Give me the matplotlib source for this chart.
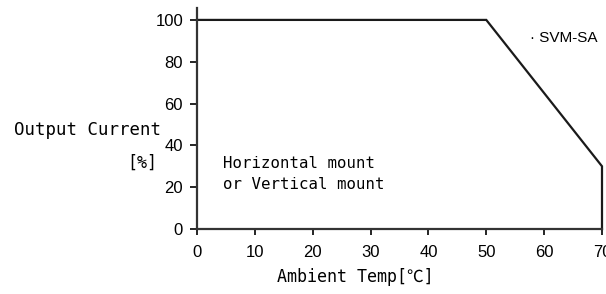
import matplotlib.pyplot as plt

# derating curve
temp = [0, 50, 70, 70]
current = [100, 100, 30, 0]
x_ticks = [0, 10, 20, 30, 40, 50, 60, 70]
y_ticks = [0, 20, 40, 60, 80, 100]

mono = ['DejaVu Sans Mono', 'Noto Sans CJK JP']
sans = ['Liberation Sans', 'DejaVu Sans']

fig = plt.figure(figsize=(6.06, 2.94), dpi=100)
ax = fig.add_axes([197 / 606, 1 - 229 / 294, 405 / 606, 221 / 294])

ax.plot(temp, current, color='#1a1a1a', lw=1.6, clip_on=False, solid_joinstyle='miter')
ax.set_xlim(0, 70)
ax.set_ylim(0, 105.7)

for s in ['top', 'right']:
    ax.spines[s].set_visible(False)
for s in ['left', 'bottom']:
    ax.spines[s].set_linewidth(1.6)
    ax.spines[s].set_color('#333333')

ax.set_xticks(x_ticks)
ax.set_yticks(y_ticks)
ax.tick_params(axis='x', direction='out', length=4.5, width=1.2, pad=7, labelsize=12)
ax.tick_params(axis='y', direction='out', length=5, width=1.2, pad=5, labelsize=12)
for lab in ax.get_xticklabels() + ax.get_yticklabels():
    lab.set_family(sans)

# labels
fig.text(14 / 606, 1 - 130 / 294, 'Output Current', family=mono, fontsize=12.5,
         ha='left', va='center')
fig.text(142 / 606, 1 - 163 / 294, '[%]', family=mono, fontsize=12,
         ha='center', va='center')
fig.text(355 / 606, 1 - 277 / 294, 'Ambient Temp[℃]', family=mono, fontsize=12,
         ha='center', va='center')
fig.text(223 / 606, 1 - 174 / 294, 'Horizontal mount\nor Vertical mount', family=mono,
         fontsize=11.3, ha='left', va='center', linespacing=1.45)
fig.text(530 / 606, 1 - 38 / 294, '· SVM-SA', family=sans, fontsize=11,
         ha='left', va='center')

fig.savefig('out.png', dpi=100)
